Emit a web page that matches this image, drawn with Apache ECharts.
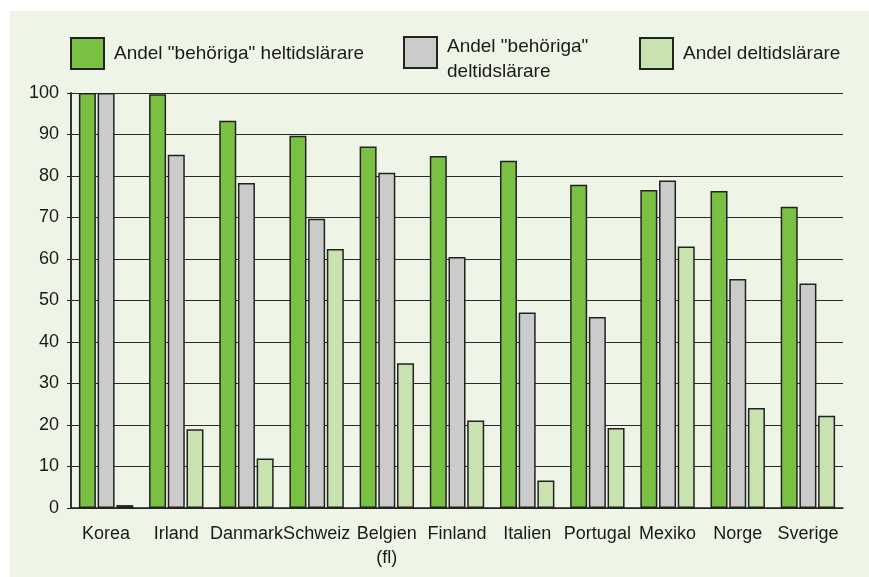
<!DOCTYPE html>
<html lang="sv">

<head>
  <meta charset="UTF-8">
  <title>Behöriga lärare</title>
  <script src="https://cdn.jsdelivr.net/npm/echarts@6/dist/echarts.min.js"></script>
  <style>
    * {
      padding: 0;
      margin: 0;
    }

    body {
      background: #fff;
    }

    #bg {
      position: absolute;
      left: 10px;
      top: 11px;
      width: 859px;
      height: 566px;
      background: #eef4e6;
    }

    #main {
      position: absolute;
      left: 0;
      top: 0;
      width: 869px;
      height: 577px;
    }
  </style>
</head>

<body>
  <div id="bg"></div>
  <div id="main"></div>
  <script>
    const countries = ['Korea', 'Irland', 'Danmark', 'Schweiz', 'Belgien\n(fl)', 'Finland', 'Italien', 'Portugal', 'Mexiko', 'Norge', 'Sverige'];
    const heltidBehoriga = [100, 99.7, 93.3, 89.7, 87.1, 84.8, 83.7, 77.9, 76.6, 76.4, 72.6];
    const deltidBehoriga = [100, 85.1, 78.3, 69.7, 80.8, 60.5, 47.1, 46.0, 78.9, 55.2, 54.1];
    const deltidAndel = [0.7, 19.0, 11.9, 62.4, 34.9, 21.1, 6.6, 19.3, 63.0, 24.1, 22.2];
    const yTicks = [0, 10, 20, 30, 40, 50, 60, 70, 80, 90, 100];

    const names = ['Andel "behöriga" heltidslärare', 'Andel "behöriga"\ndeltidslärare', 'Andel deltidslärare'];
    const colors = ['#7ac143', '#cbcbcb', '#c9e3b0'];

    const font = "'Liberation Sans', Arial, sans-serif";
    const textColor = '#1a1a1a';

    var chartDom = document.getElementById('main');
    var myChart = echarts.init(chartDom, null, { renderer: 'canvas' });
    var option;

    function legendAt(name, left, top, formatter) {
      return {
        data: [name],
        left: left,
        top: top,
        itemWidth: 33,
        itemHeight: 31,
        icon: 'rect',
        selectedMode: false,
        formatter: formatter,
        textStyle: {
          fontFamily: font, fontSize: 19, color: textColor, lineHeight: 25, padding: [0, 0, 0, 5],
          rich: {
            gap: { fontSize: 4, lineHeight: 13 },
            t: { fontFamily: font, fontSize: 19, color: textColor, lineHeight: 25 }
          }
        }
      };
    }

    // two-line label sits a little lower than its swatch
    function twoLine(name) {
      return '{gap| }\n' + name.split('\n').map(function (s) { return '{t|' + s + '}'; }).join('\n');
    }

    option = {
      backgroundColor: 'transparent',
      textStyle: { fontFamily: font },
      legend: [
        legendAt(names[0], 65, 32),
        legendAt(names[1], 398, 16, twoLine),
        legendAt(names[2], 634, 32)
      ],
      grid: {
        left: 71,
        right: 26,
        top: 93,
        bottom: 69
      },
      xAxis: {
        type: 'category',
        data: countries,
        axisLine: { lineStyle: { color: '#222', width: 1.5 } },
        axisTick: { show: false },
        axisLabel: {
          color: textColor,
          fontSize: 18,
          fontFamily: font,
          margin: 14,
          lineHeight: 24,
          interval: 0
        }
      },
      yAxis: {
        type: 'value',
        min: yTicks[0],
        max: yTicks[yTicks.length - 1],
        interval: 10,
        axisLine: { show: true, lineStyle: { color: '#333', width: 2 } },
        axisTick: { show: true, length: 4, lineStyle: { color: '#222' } },
        axisLabel: {
          color: textColor,
          fontSize: 18,
          fontFamily: font,
          margin: 12
        },
        splitLine: { lineStyle: { color: '#2a2a2a', width: 1.2 } }
      },
      series: [heltidBehoriga, deltidBehoriga, deltidAndel].map(function (vals, i) {
        return {
          name: names[i],
          type: 'bar',
          data: vals,
          barWidth: 17,
          barGap: '10%',
          itemStyle: {
            color: colors[i],
            borderColor: '#222',
            borderWidth: 1.5
          },
          animation: false
        };
      })
    };

    option && myChart.setOption(option);
  </script>
</body>

</html>
